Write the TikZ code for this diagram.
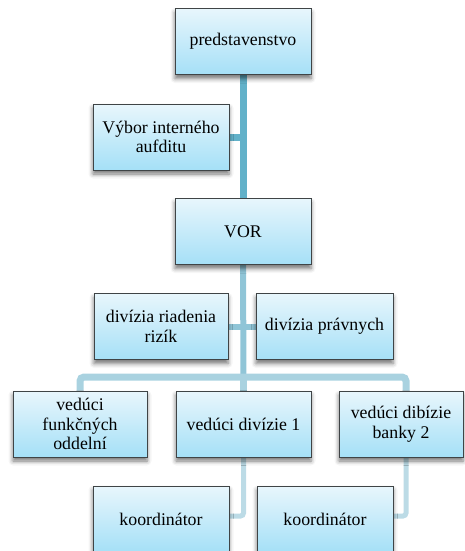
\documentclass[tikz,border=0pt]{standalone}
\usepackage{fontspec}
\setmainfont{Liberation Serif}
\usetikzlibrary{shadows.blur,backgrounds}
\definecolor{boxtop}{HTML}{E8F6FC}
\definecolor{boxbot}{HTML}{A5E0F7}
\definecolor{boxline}{HTML}{3F4446}
\definecolor{linkA}{HTML}{62B1C9}
\definecolor{linkB}{HTML}{90C5D7}
\definecolor{linkC}{HTML}{A9D2E0}
\definecolor{linkD}{HTML}{BCDBE6}
\tikzset{
  orgbox/.style={draw=boxline, line width=0.9pt, top color=boxtop, bottom color=boxbot,
    minimum width=136pt, minimum height=66pt, inner sep=2pt, align=center,
    font=\fontsize{17.8}{19.5}\selectfont,
    blur shadow={shadow xshift=0pt, shadow yshift=-4pt, shadow blur radius=4.5pt, shadow opacity=55}},
  linkone/.style={draw=linkA, line width=7pt},
  linktwo/.style={draw=linkB, line width=6pt},
  linkthree/.style={draw=linkC, line width=7pt, rounded corners=4pt},
  linkfour/.style={draw=linkD, line width=5pt, rounded corners=3pt},
}
\begin{document}
\begin{tikzpicture}[x=1pt, y=-1pt]
\useasboundingbox (0,0) rectangle (464,551);
% boxes
\node[orgbox] (board) at (243,41.5) {predstavenstvo};
\node[orgbox] (audit) at (161,137) {Výbor interného\\aufditu};
\node[orgbox] (vor) at (243,231.5) {VOR};
\node[orgbox, minimum width=134pt] (risk) at (161,326.5) {divízia riadenia\\rizík};
\node[orgbox, minimum width=137pt] (legal) at (324.5,326.5) {divízia právnych};
\node[orgbox, minimum width=134pt] (head0) at (80,424) {vedúci\\funkčných\\oddelní};
\node[orgbox, minimum width=135pt] (head1) at (243.5,424) {vedúci divízie 1};
\node[orgbox, minimum width=124pt] (head2) at (401,424) {vedúci dibízie\\banky 2};
\node[orgbox] (coordA) at (161,519) {koordinátor};
\node[orgbox] (coordB) at (325,519) {koordinátor};
% connectors behind the boxes
\coordinate (busL) at (80,377);
\coordinate (busM) at (243.5,377);
\coordinate (busR) at (406,377);
\coordinate (dropR) at (406,457);
\begin{pgfonlayer}{background}
  \draw[linkone] (board.south) -- (vor.north);
  \draw[linkone] (audit.east) -- (audit.east -| board.south);
  \draw[linktwo] (vor.south) -- (busM);
  \draw[linktwo] (risk.east) -- (legal.west);
  \draw[linkthree] (head0.north) -- (busL) -- (busR) -- (busR |- head2.north);
  \draw[linkthree] (busM) -- (head1.north);
  \draw[linkfour] (head1.south) |- ([yshift=3pt]coordA.east);
  \draw[linkfour] (dropR) |- ([yshift=3pt]coordB.east);
\end{pgfonlayer}
\end{tikzpicture}
\end{document}
